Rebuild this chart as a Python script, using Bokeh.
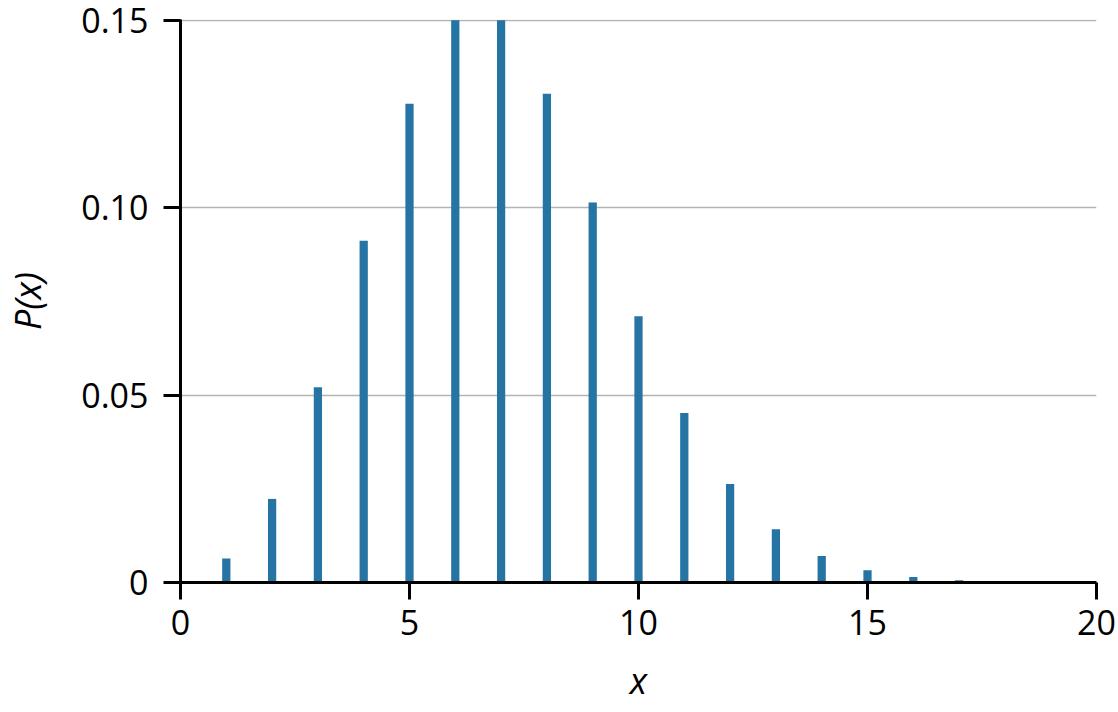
from bokeh.plotting import figure
from bokeh.models import Range1d, FixedTicker
from bokeh.embed import file_html
from bokeh.resources import INLINE

x_vals = [1, 2, 3, 4, 5, 6, 7, 8, 9, 10, 11, 12, 13, 14, 15, 16, 17]
p_vals = [0.0064, 0.0223, 0.0521, 0.0912, 0.1277, 0.1500, 0.1500, 0.1304,
          0.1014, 0.0710, 0.0452, 0.0263, 0.0142, 0.0071, 0.0033, 0.0015, 0.0006]
x_ticks = [0, 5, 10, 15, 20]
y_ticks = [0, 0.05, 0.10, 0.15]
y_tick_labels = ["0", "0.05", "0.10", "0.15"]

FONT = "Open Sans"

p = figure(width=1118, height=712, output_backend="svg", toolbar_location=None,
           x_range=Range1d(0, 20), y_range=Range1d(0, 0.1502),
           min_border_left=176, min_border_right=22, min_border_top=19, min_border_bottom=130)
p.outline_line_color = None
p.background_fill_color = "white"

p.vbar(x=x_vals, top=p_vals, bottom=0, width=0.18, fill_color="#2574a3", line_color=None)

p.xgrid.grid_line_color = None
p.ygrid.grid_line_color = "#b3b3b3"
p.ygrid.grid_line_width = 1.3

for ax in (p.xaxis[0], p.yaxis[0]):
    ax.axis_line_width = 3
    ax.axis_line_color = "black"
    ax.major_tick_line_width = 3
    ax.major_tick_line_color = "black"
    ax.major_tick_out = 17
    ax.major_tick_in = 0
    ax.minor_tick_line_color = None
    ax.major_label_text_font = FONT
    ax.major_label_text_font_size = "34px"
    ax.major_label_text_color = "black"
    ax.axis_label_text_font = FONT
    ax.axis_label_text_font_size = "36px"
    ax.axis_label_text_font_style = "italic"
    ax.axis_label_text_color = "black"

p.xaxis[0].ticker = FixedTicker(ticks=x_ticks)
p.yaxis[0].ticker = FixedTicker(ticks=y_ticks)
p.yaxis[0].major_label_overrides = {t: l for t, l in zip(y_ticks, y_tick_labels)}
p.xaxis[0].axis_label = "x"
p.yaxis[0].axis_label = "P(x)"
p.xaxis[0].major_label_standoff = 10
p.yaxis[0].major_label_standoff = 15
p.xaxis[0].axis_label_standoff = 18
p.yaxis[0].axis_label_standoff = 26

open("out.html", "w").write(file_html(p, INLINE))
